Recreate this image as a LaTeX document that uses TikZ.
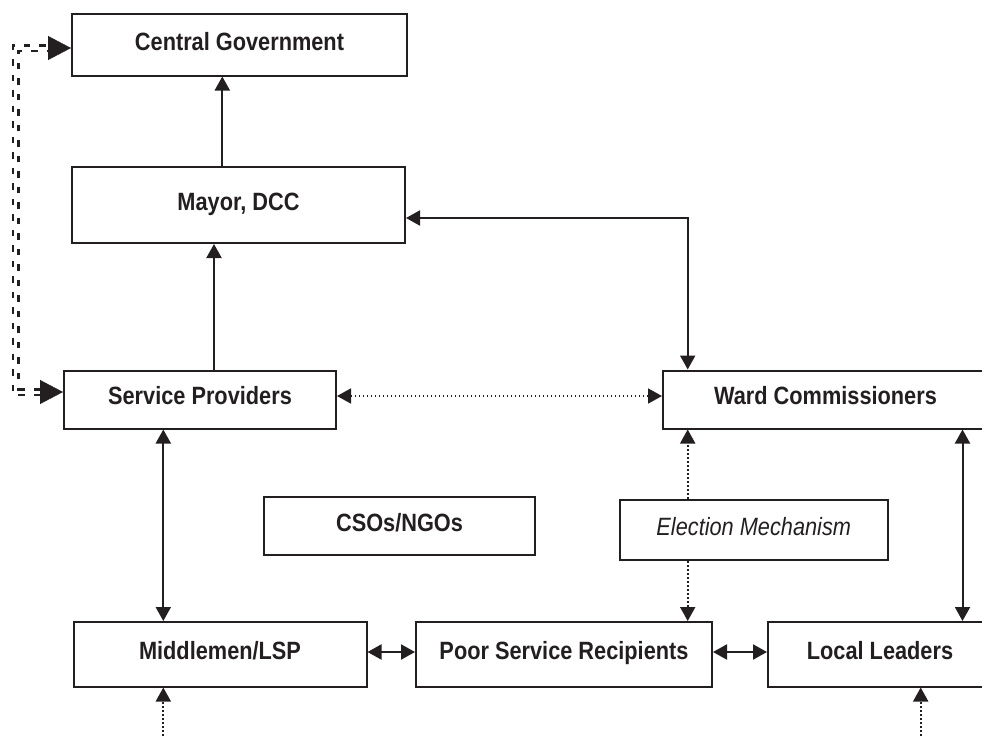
\documentclass[tikz,border=0pt]{standalone}
\usepackage{fontspec}
\setmainfont{Liberation Sans}[FakeStretch=0.87]
\usetikzlibrary{arrows.meta,calc}
\definecolor{ink}{HTML}{231F20}
\begin{document}
\begin{tikzpicture}[x=1pt,y=-1pt,
  box/.style={draw=ink, line width=2pt, inner sep=0pt, text=ink,
    font=\fontsize{25}{30}\selectfont\bfseries, text height=18pt, text depth=7.4pt},
  conn/.style={draw=ink, line width=2pt},
  dotconn/.style={draw=ink, line width=1.8pt, dash pattern=on 1.8pt off 2.2pt},
  dsh/.style={draw=ink, line width=2.8pt, dash pattern=on 6.5pt off 9pt},
  bigtip/.style={draw=ink, fill=ink, -{Triangle[length=23pt,width=24pt]}},
  >={Triangle[length=14pt,width=15pt]}
]
\useasboundingbox (0,0) rectangle (982,736);
\clip (0,0) rectangle (982,736);

% boxes
\node[box, minimum width=335pt, minimum height=61.5pt] (cg) at (239.5,44.75) {Central Government};
\node[box, minimum width=333pt, minimum height=76pt] (mayor) at (238.5,205) {Mayor, DCC};
\node[box, minimum width=272pt, minimum height=58pt] (sp) at (200,399.5) {Service Providers};
\node[box, minimum width=325pt, minimum height=58pt] (wc) at (825.5,399.5) {Ward Commissioners};
\node[box, minimum width=271pt, minimum height=58pt] (cso) at (399.5,526) {CSOs/NGOs};
\node[box, minimum width=267.5pt, minimum height=60pt, font=\fontsize{25}{30}\selectfont\itshape] (em) at (753.75,530) {Election Mechanism};
\node[box, minimum width=293pt, minimum height=64.5pt] (ml) at (220,654.25) {Middlemen/LSP};
\node[box, minimum width=296pt, minimum height=64.5pt] (psr) at (564,654.25) {Poor Service Recipients};
\node[box, minimum width=224pt, minimum height=64.5pt] (ll) at (880,654.25) {Local Leaders};

% helper coordinates
\coordinate (m1) at ([xshift=-16.2pt]mayor.north);
\coordinate (s1) at ([xshift=14pt]sp.north);
\coordinate (wcn) at ([xshift=-137.8pt]wc.north);
\coordinate (s2) at ([xshift=-36.7pt]sp.south);
\coordinate (w2) at ([xshift=137pt]wc.south);
\coordinate (d1) at (163.3,736);
\coordinate (d2) at (920.7,736);
\coordinate (e1) at ([yshift=7.5pt]sp.west);
\coordinate (e2) at ([yshift=-3.25pt]cg.west);
\coordinate (vx) at (15.8,0);
\coordinate (c2) at (vx |- e2);

% solid connectors
\draw[conn,->] (m1) -- (m1 |- cg.south);
\draw[conn,->] (s1) -- (s1 |- mayor.south);
\draw[conn,<->] ([yshift=-13pt]mayor.east) -| (wcn);
\draw[conn,<->] (s2) -- (s2 |- ml.north);
\draw[conn,<->] (w2) -- (w2 |- ll.north);
\draw[conn,<->] ([yshift=2.25pt]ml.east) -- ([yshift=2.25pt]psr.west);
\draw[conn,<->] ([yshift=2.25pt]psr.east) -- ([yshift=2.25pt]ll.west);

% dotted connectors
\draw[dotconn,<->] ([yshift=3.5pt]sp.east) -- ([yshift=3.5pt]wc.west);
\draw[dotconn,->] (wcn |- em.north) -- (wcn |- wc.south);
\draw[dotconn,->] (wcn |- em.south) -- (wcn |- psr.north);
\draw[dotconn,->] (d1) -- (d1 |- ml.south);
\draw[dotconn,->] (d2) -- (d2 |- ll.south);

% dashed double feedback line (two parallel dashed strokes)
\draw[dsh] ([shift={(-23pt,-2.9pt)}]e1) -| ([shift={(-2.9pt,2.9pt)}]c2) -- ([shift={(-23pt,2.9pt)}]e2);
\draw[dsh] ([shift={(-23pt,2.9pt)}]e1) -| ([shift={(2.9pt,-2.9pt)}]c2) -- ([shift={(-23pt,-2.9pt)}]e2);
\draw[bigtip] ([xshift=-23pt]e1) -- (e1);
\draw[bigtip] ([xshift=-23pt]e2) -- (e2);
\end{tikzpicture}
\end{document}
